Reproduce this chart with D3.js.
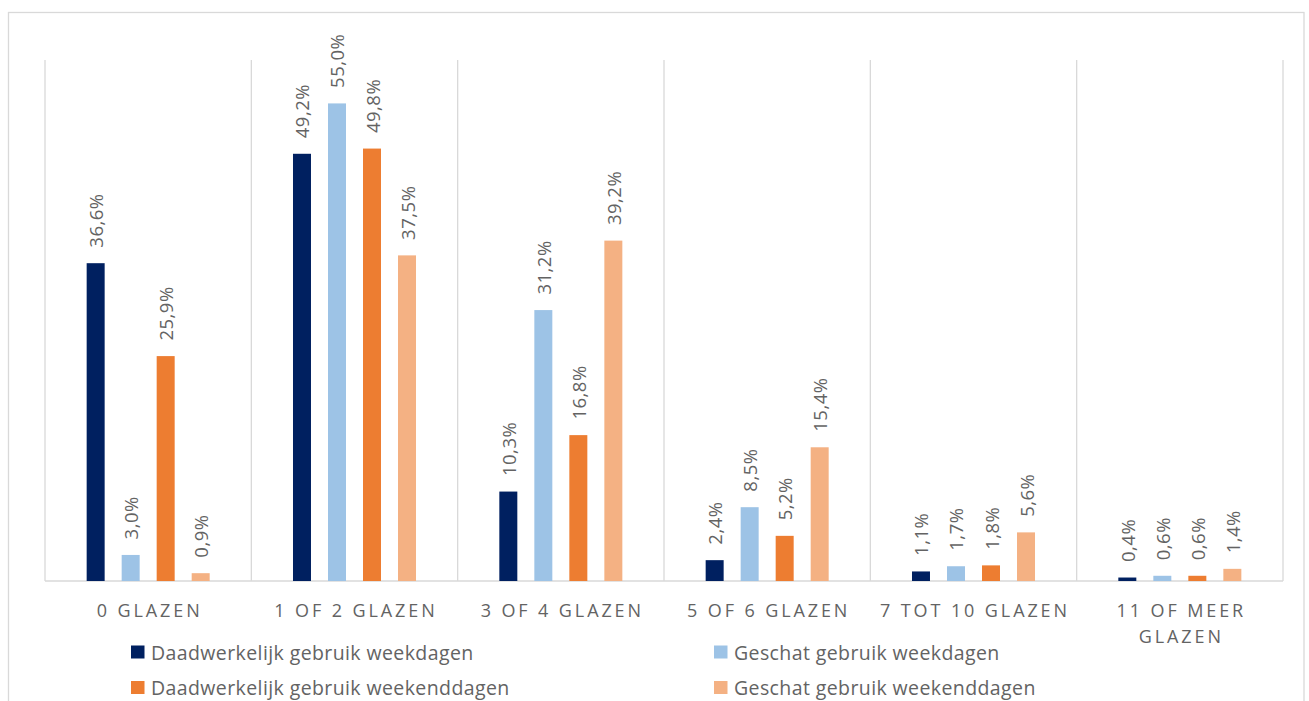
<!DOCTYPE html>
<html>
<head>
<meta charset="utf-8">
<script src="https://cdn.jsdelivr.net/npm/d3@7"></script>
<style>
  html, body { margin: 0; padding: 0; background: #fff; }
  svg { display: block; }
  text { font-family: "Open Sans", "Noto Sans", sans-serif; font-weight: 400; fill: #636363; }
</style>
</head>
<body>
<svg id="chart" width="1309" height="701"></svg>
<script>
const categories = ["0 glazen", "1 of 2 glazen", "3 of 4 glazen", "5 of 6 glazen", "7 tot 10 glazen", "11 of meer glazen"];
const seriesNames = ["Daadwerkelijk gebruik weekdagen", "Geschat gebruik weekdagen", "Daadwerkelijk gebruik weekenddagen", "Geschat gebruik weekenddagen"];
const daadwerkelijkWeekdagen = [36.6, 49.2, 10.3, 2.4, 1.1, 0.4];
const geschatWeekdagen = [3.0, 55.0, 31.2, 8.5, 1.7, 0.6];
const daadwerkelijkWeekenddagen = [25.9, 49.8, 16.8, 5.2, 1.8, 0.6];
const geschatWeekenddagen = [0.9, 37.5, 39.2, 15.4, 5.6, 1.4];
const yDomain = [0, 60];

const seriesValues = [daadwerkelijkWeekdagen, geschatWeekdagen, daadwerkelijkWeekenddagen, geschatWeekenddagen];
const colors = ["#002060", "#9DC3E6", "#ED7D31", "#F4B183"];

const svg = d3.select("#chart");

// chart area border
svg.append("rect")
  .attr("x", 8.5).attr("y", 12.5).attr("width", 1295.5).attr("height", 720)
  .attr("fill", "none").attr("stroke", "#D9D9D9").attr("stroke-width", 1.3);

const plotLeft = 45, plotRight = 1283, plotTop = 60, plotBottom = 581;
const x = d3.scaleBand().domain(categories).range([plotLeft, plotRight]).padding(0);
const y = d3.scaleLinear().domain(yDomain).range([plotBottom, plotTop]);
const xi = d3.scaleBand().domain(seriesNames).range([0, x.bandwidth()]).paddingInner(0.486).paddingOuter(1.19);
const color = d3.scaleOrdinal().domain(seriesNames).range(colors);

// vertical gridlines at category boundaries
const boundaries = categories.map(c => x(c)).concat([plotRight]);
svg.append("g").selectAll("line").data(boundaries).join("line")
  .attr("x1", d => d).attr("x2", d => d)
  .attr("y1", y(yDomain[1])).attr("y2", y(0))
  .attr("stroke", "#D9D9D9").attr("stroke-width", 1.3);

// baseline
svg.append("line")
  .attr("x1", plotLeft).attr("x2", plotRight)
  .attr("y1", y(0)).attr("y2", y(0))
  .attr("stroke", "#D9D9D9").attr("stroke-width", 1.3);

const rows = [];
seriesNames.forEach((s, si) => {
  categories.forEach((c, ci) => rows.push({ s, c, v: seriesValues[si][ci] }));
});

const fmt = v => d3.format(".1f")(v).replace(".", ",") + "%";

svg.append("g").selectAll("rect").data(rows).join("rect")
  .attr("x", d => x(d.c) + xi(d.s))
  .attr("y", d => y(d.v))
  .attr("width", xi.bandwidth())
  .attr("height", d => y(0) - y(d.v))
  .attr("fill", d => color(d.s));

svg.append("g").selectAll("text").data(rows).join("text")
  .attr("transform", d => `translate(${x(d.c) + xi(d.s) + xi.bandwidth() / 2},${y(d.v) - 15.5}) rotate(-90)`)
  .attr("text-anchor", "start")
  .attr("dominant-baseline", "central")
  .style("font-size", "18.5px")
  .style("letter-spacing", "0.5px")
  .text(d => fmt(d.v));

// x axis labels (uppercase, letter-spaced, wrapped)
const axisG = svg.append("g");
categories.forEach(c => {
  const cx = x(c) + x.bandwidth() / 2 + 1.5;
  const t = axisG.append("text")
    .attr("x", cx)
    .attr("y", 617)
    .attr("text-anchor", "middle")
    .style("font-size", "18px")
    .style("letter-spacing", "2.9px")
    .text(c.toUpperCase());
  const words = c.toUpperCase().split(" ");
  if (t.node().getComputedTextLength() > x.bandwidth() - 2) {
    t.text(null);
    let line = [], lines = [];
    const probe = t.append("tspan");
    words.forEach(w => {
      line.push(w);
      probe.text(line.join(" "));
      if (probe.node().getComputedTextLength() > x.bandwidth() - 2 && line.length > 1) {
        line.pop(); lines.push(line.join(" ")); line = [w];
      }
    });
    lines.push(line.join(" "));
    probe.remove();
    lines.forEach((l, i) => {
      t.append("tspan").attr("x", cx).attr("dy", i === 0 ? 0 : 26).text(l);
    });
  }
});

// legend
const legendPos = [[131, 652], [714, 652], [131, 687.5], [714, 687.5]];
const lg = svg.append("g");
seriesNames.forEach((s, i) => {
  const [lx, ly] = legendPos[i];
  lg.append("rect").attr("x", lx).attr("y", ly - 6.5).attr("width", 13.5).attr("height", 13)
    .attr("fill", color(s));
  lg.append("text").attr("x", lx + 20).attr("y", ly).attr("dominant-baseline", "central")
    .style("font-size", "19.5px").style("letter-spacing", "0.4px").text(s);
});
</script>
</body>
</html>
